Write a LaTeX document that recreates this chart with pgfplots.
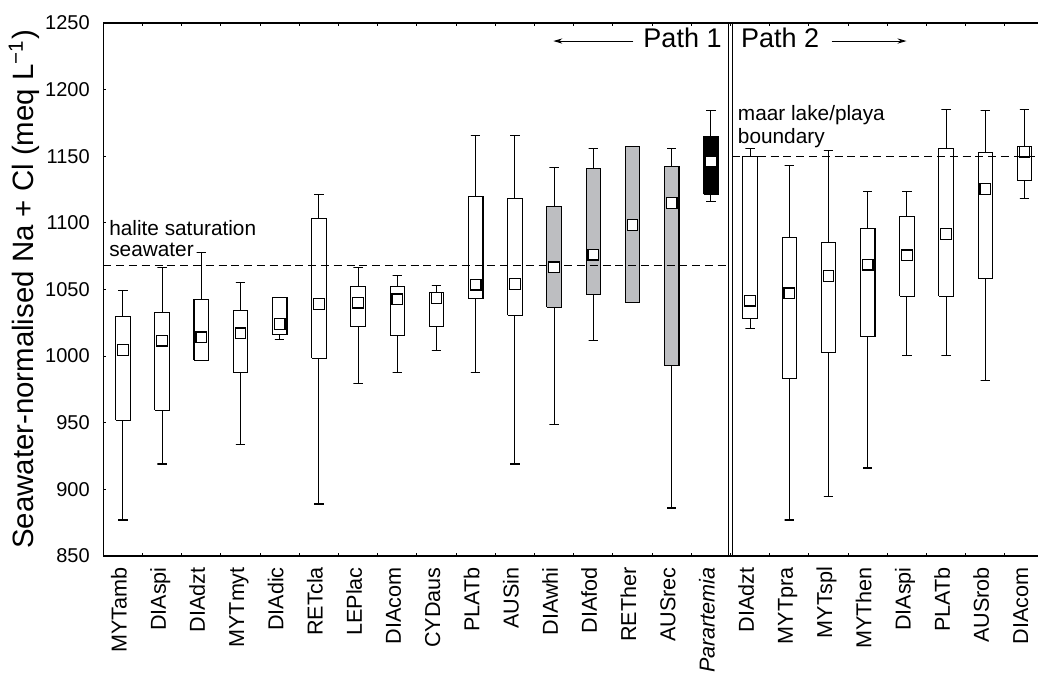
\documentclass[border=0pt]{standalone}
\usepackage{fontspec}
\setmainfont{Liberation Sans}
\usepackage{pgfplots}
\pgfplotsset{compat=1.18}
\usetikzlibrary{arrows.meta}

\definecolor{boxgray}{HTML}{BDBEC1}

% one box: position, lower whisker, lower quartile, upper quartile, upper whisker, fill
\newcommand{\bx}[6]{%
  \pgfmathsetmacro\xa{#1-0.185}\pgfmathsetmacro\xb{#1+0.185}%
  \pgfmathsetmacro\wa{#1-0.12}\pgfmathsetmacro\wb{#1+0.12}%
  \addplot[black, line width=0.55pt] coordinates {(#1,#4) (#1,#5) (\wa,#5) (\wb,#5)};
  \addplot[black, line width=0.55pt] coordinates {(#1,#3) (#1,#2) (\wa,#2) (\wb,#2)};
  \addplot[draw=black, line width=0.55pt, fill=#6, line join=miter]
    coordinates {(\xa,#3) (\xb,#3) (\xb,#4) (\xa,#4) (\xa,#3)};}

\begin{document}
\begin{tikzpicture}
\begin{axis}[
  name=ax,
  scale only axis,
  width=470.4pt, height=266.55pt,
  xmin=-0.5, xmax=23.5,
  ymin=850, ymax=1250,
  axis line style={line width=0.6pt},
  clip=false,
  xtick={0.5,1.5,...,22.5},
  xticklabels={},
  extra x ticks={0,...,23},
  extra x tick labels={MYTamb,DIAspi,DIAdzt,MYTmyt,DIAdic,RETcla,LEPlac,DIAcom,CYDaus,PLATb,AUSin,DIAwhi,DIAfod,RETher,AUSrec,\textit{Parartemia},DIAdzt,MYTpra,MYTspl,MYThen,DIAspi,PLATb,AUSrob,DIAcom},
  extra x tick style={tick style={draw=none}},
  ytick={850,900,...,1250},
  ytick pos=left,
  tick align=inside,
  major tick length=1.4pt,
  tick style={line width=0.5pt, black},
  /pgf/number format/assume math mode=true,
  /pgf/number format/1000 sep={},
  yticklabel style={font=\fontsize{10}{12}\selectfont, inner sep=0pt, xshift=-6.6pt},
  xticklabel style={font=\fontsize{10.8}{13}\selectfont, xshift=-1.75pt, yshift=-5.4pt,
    rotate=90, anchor=east, inner sep=0pt, text height=0.716em, text depth=0pt},
  ylabel={Seawater-normalised Na + Cl (meq L\textsuperscript{−1})},
  ylabel style={at={(axis description cs:-0.0744,0.5)}, anchor=base,
    font=\fontsize{14.7}{17}\selectfont, inner sep=0pt},
]
% Path 1
\bx{0}{877}{952}{1030}{1049.5}{white}
\bx{1}{919}{959.5}{1032.5}{1066.5}{white}
\bx{2}{997}{997}{1042.5}{1077.5}{white}
\bx{3}{934}{988}{1034}{1055.5}{white}
\bx{4}{1012.5}{1016}{1044}{1044}{white}
\bx{5}{889}{998.5}{1103}{1121.5}{white}
\bx{6}{979.5}{1022}{1052.5}{1066.5}{white}
\bx{7}{988}{1015.5}{1052.5}{1060.5}{white}
\bx{8}{1004}{1022}{1047.5}{1053}{white}
\bx{9}{987.5}{1043}{1120}{1165.5}{white}
\bx{10}{919}{1030.5}{1118.5}{1165.5}{white}
\bx{11}{948.5}{1036.5}{1112.5}{1141.5}{boxgray}
\bx{12}{1012}{1046}{1141}{1156}{boxgray}
\bx{13}{1040.5}{1040.5}{1157}{1157}{boxgray}
\bx{14}{886}{993}{1142.5}{1155.5}{boxgray}
\bx{15}{1116}{1121.5}{1165}{1184}{black}
% Path 2
\bx{16}{1021}{1028}{1150}{1156}{white}
\bx{17}{877}{983.5}{1089}{1143}{white}
\bx{18}{894.5}{1003}{1085.5}{1154.5}{white}
\bx{19}{916}{1015}{1095.5}{1123.5}{white}
\bx{20}{1000.5}{1045}{1105}{1123.5}{white}
\bx{21}{1000.5}{1045}{1156}{1185}{white}
\bx{22}{981.5}{1058.5}{1152.5}{1184.5}{white}
\bx{23}{1118.5}{1132}{1157.5}{1185}{white}

% reference levels
\addplot[black, line width=0.5pt, dash pattern=on 4pt off 2.4pt] coordinates {(-0.5,1068.3) (15.5,1068.3)};
\addplot[black, line width=0.5pt, dash pattern=on 4pt off 2.4pt] coordinates {(15.543,1149.6) (23.5,1149.6)};

% means
\addplot[only marks, mark=square*, mark size=2.67pt,
  mark options={fill=white, draw=black, line width=0.65pt, solid}]
  coordinates {
  (0,1004.5) (1,1011.5) (2,1014) (3,1017) (4,1024) (5,1039) (6,1040) (7,1042.5)
  (8,1043.5) (9,1053.5) (10,1054) (11,1066.5) (12,1076) (13,1098.5) (14,1115) (15,1146)
  (16,1041.5) (17,1047) (18,1060) (19,1068.5) (20,1075.5) (21,1091.5) (22,1125.5) (23,1153.5)};

% divider between the two paths
\draw[line width=0.5pt] (axis cs:15.457,850) -- (axis cs:15.457,1250);
\draw[line width=0.5pt] (axis cs:15.543,850) -- (axis cs:15.543,1250);

% annotations
\node[anchor=base west, inner sep=0pt, font=\fontsize{10.4}{12}\selectfont] at (axis cs:-0.357,1090.7) {halite saturation};
\node[anchor=base west, inner sep=0pt, font=\fontsize{10.4}{12}\selectfont] at (axis cs:-0.357,1074.8) {seawater};
\node[anchor=base west, inner sep=0pt, font=\fontsize{10.4}{12}\selectfont] at (axis cs:15.68,1177.0) {maar lake/playa};
\node[anchor=base west, inner sep=0pt, font=\fontsize{10.4}{12}\selectfont] at (axis cs:15.68,1159.5) {boundary};
\node[anchor=base west, inner sep=0pt, font=\fontsize{13.5}{15}\selectfont] at (axis cs:13.27,1231.2) {Path 1};
\node[anchor=base west, inner sep=0pt, font=\fontsize{13.5}{15}\selectfont] at (axis cs:15.76,1231.2) {Path 2};
\draw[line width=0.5pt, -{Stealth[length=4.5pt, width=2.6pt]}] (axis cs:13.02,1236.4) -- (axis cs:10.98,1236.4);
\draw[line width=0.5pt, -{Stealth[length=4.5pt, width=2.6pt]}] (axis cs:18.08,1236.4) -- (axis cs:19.99,1236.4);
\end{axis}
% page extent: the right edge of the frame lies just beyond the page
\pgfresetboundingbox
\useasboundingbox ([xshift=-51.65pt,yshift=-59.5pt]ax.south west) rectangle ([xshift=467.35pt,yshift=278pt]ax.south west);
\end{tikzpicture}
\end{document}
